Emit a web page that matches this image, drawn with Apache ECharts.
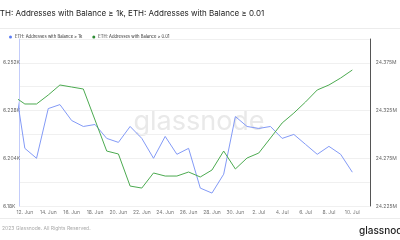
<!DOCTYPE html>
<html><head><meta charset="utf-8">
<script src="https://cdn.jsdelivr.net/npm/echarts@6/dist/echarts.min.js"></script>
<style>html,body{margin:0;padding:0;background:#fff}#c{width:400px;height:240px}</style>
</head><body><div id="c"></div>
<script>
const days = ['11 Jun','12 Jun','13 Jun','14 Jun','15 Jun','16 Jun','17 Jun','18 Jun','19 Jun','20 Jun',
  '21 Jun','22 Jun','23 Jun','24 Jun','25 Jun','26 Jun','27 Jun','28 Jun','29 Jun','30 Jun',
  '1 Jul','2 Jul','3 Jul','4 Jul','5 Jul','6 Jul','7 Jul','8 Jul','9 Jul','10 Jul'];
const addr1k = [6247,6209,6204,6229,6231,6223,6220,6221,6214,6212,
  6220,6214,6204,6215,6206,6209,6189,6186.5,6196,6225,
  6220,6219,6220,6214,6216,6211,6206,6210,6206,6197];
const addr001 = [24340300,24331900,24331900,24341300,24351800,24349700,24347600,24315100,24282600,24279500,
  24245900,24243800,24259600,24256400,24256400,24260600,24255400,24262700,24282600,24263800,
  24275300,24280500,24296200,24312000,24322400,24334000,24346600,24351800,24359100,24367500];
const xTickIdx = [1,3,5,7,9,11,13,15,17,19,21,23,25,27,29];
const xTickLabels = ['12. Jun','14. Jun','16. Jun','18. Jun','20. Jun','22. Jun','24. Jun','26. Jun','28. Jun','30. Jun',
  '2. Jul','4. Jul','6. Jul','8. Jul','10. Jul'];
const leftTicks = [6180,6204,6228,6252];
const rightTicks = [24225000,24275000,24325000,24375000];
const seriesNames = ['ETH: Addresses with Balance \u2265 1k','ETH: Addresses with Balance \u2265 0.01'];
const titleText = 'ETH: Addresses with Balance \u2265 1k, ETH: Addresses with Balance \u2265 0.01';

const FONT = 'Inter, "Noto Sans", sans-serif';
const chart = echarts.init(document.getElementById('c'), null, {renderer:'canvas'});
chart.setOption({
  animation:false,
  textStyle:{fontFamily:FONT},
  grid:{left:18,right:23,top:39,bottom:34},
  legend:{
    left:4, top:30, icon:'circle', itemWidth:3, itemHeight:3, itemGap:10,
    textStyle:{fontSize:4.2, color:'#333', fontFamily:FONT, padding:[0,0,0,-2]},
    data:seriesNames
  },
  xAxis:{
    type:'value', min:0.5, max:30.5,
    axisLine:{show:false}, axisTick:{show:false}, splitLine:{show:false},
    axisLabel:{customValues:xTickIdx, fontSize:5, color:'#777', margin:4,
      formatter:v=>{const i=xTickIdx.indexOf(Math.round(v));return i>=0?xTickLabels[i]:'';}}
  },
  yAxis:[{
    type:'value', min:6180, max:6264, interval:12, position:'left',
    axisLine:{show:true, lineStyle:{color:'#c3ccfa', width:1}},
    axisTick:{show:false},
    splitLine:{show:true, lineStyle:{color:'#f0f0f0', width:1}},
    axisLabel:{fontSize:5, color:'#666', align:'left', margin:16,
      formatter:v=>leftTicks.includes(v)?parseFloat((v/1000).toFixed(3))+'K':''}
  },{
    type:'value', min:24225000, max:24400000, interval:25000, position:'right',
    axisLine:{show:true, lineStyle:{color:'#555', width:1}},
    axisTick:{show:false},
    splitLine:{show:false},
    axisLabel:{fontSize:5, color:'#666', margin:6,
      formatter:v=>rightTicks.includes(v)?parseFloat((v/1e6).toFixed(3))+'M':''}
  }],
  graphic:[
    {type:'text', left:-5, top:10, style:{text:titleText, fontSize:8, fill:'#222', fontFamily:FONT}},
    {type:'line', shape:{x1:0,y1:28.5,x2:400,y2:28.5}, style:{stroke:'#ececec', lineWidth:1}},
    {type:'line', shape:{x1:0,y1:218.5,x2:400,y2:218.5}, style:{stroke:'#ececec', lineWidth:1}},
    {type:'text', x:199, y:122, z:-10, style:{text:'glassnode', fontSize:27, fill:'#e9e9e9', fontFamily:FONT, align:'center', verticalAlign:'middle'}},
    {type:'text', left:2, top:226, style:{text:'2023 Glassnode. All Rights Reserved.', fontSize:5, fill:'#aaa', fontFamily:FONT}},
    {type:'text', x:359, y:231, style:{text:'glassnode', fontSize:10, fill:'#222', fontWeight:500, fontFamily:FONT, verticalAlign:'middle'}}
  ],
  series:[{
    name:seriesNames[0], type:'line', yAxisIndex:0, showSymbol:false, symbol:'none', z:3,
    lineStyle:{color:'#839af6', width:1}, itemStyle:{color:'#5b7cf5'},
    data:addr1k.map((v,i)=>[i,v])
  },{
    name:seriesNames[1], type:'line', yAxisIndex:1, showSymbol:false, symbol:'none', z:3,
    lineStyle:{color:'#4caa50', width:1}, itemStyle:{color:'#2e8b34'},
    data:addr001.map((v,i)=>[i,v])
  }]
});
</script></body></html>
